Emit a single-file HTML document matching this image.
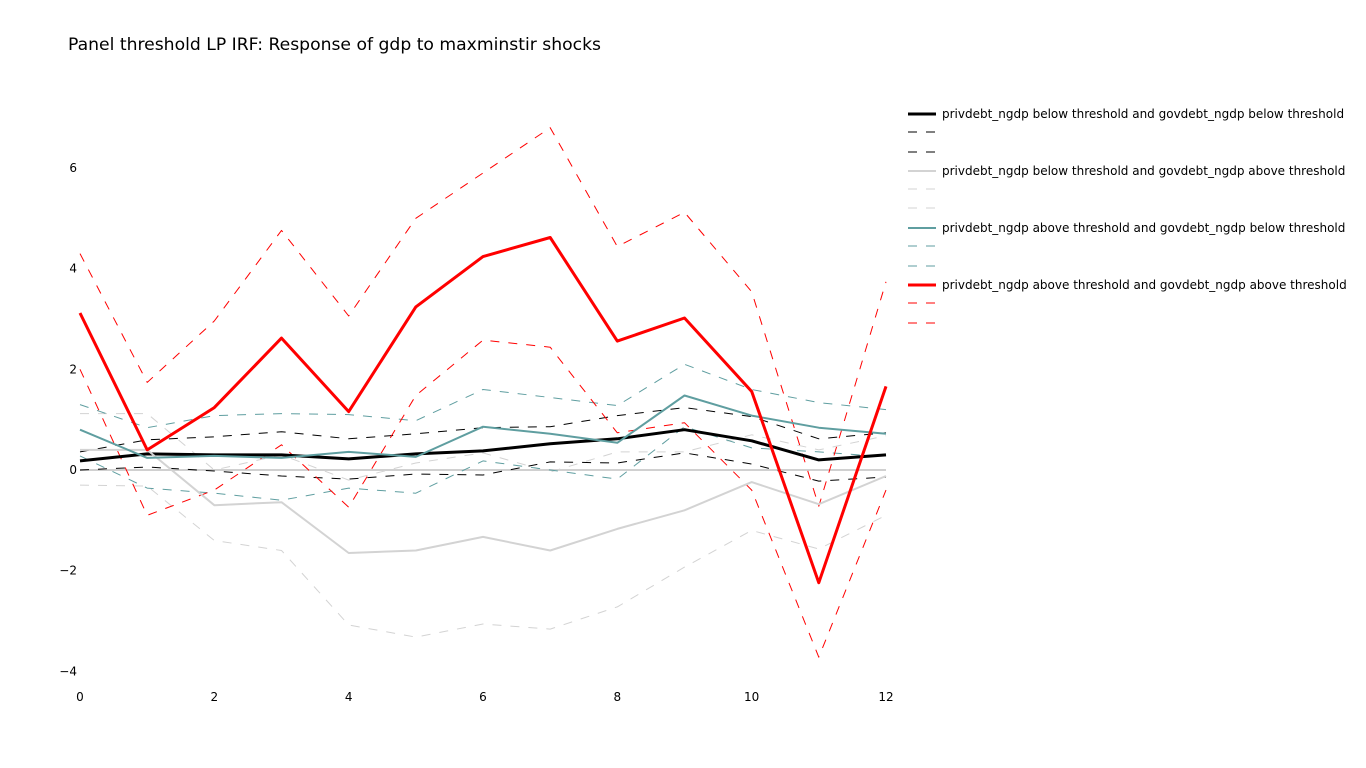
<!DOCTYPE html>
<html><head><meta charset="utf-8"><style>
body{margin:0;background:#fff;font-family:"DejaVu Sans",sans-serif}
svg{display:block}
</style></head><body>
<svg id="chart" width="1366" height="768" font-family="DejaVu Sans, sans-serif">
<rect width="1366" height="768" fill="#fff"/>
<text x="68" y="50" font-size="17.2" fill="#000">Panel threshold LP IRF: Response of gdp to maxminstir shocks</text>
<g id="axes"></g><g id="plot"></g><g id="legend"></g>
</svg>
<script>
const horizons=[0,1,2,3,4,5,6,7,8,9,10,11,12];
const xTicks=[0,2,4,6,8,10,12];
const yTicks=[-4,-2,0,2,4,6];
const yTickLabels=["\u22124","\u22122","0","2","4","6"];
const seriesNames=["privdebt_ngdp below threshold and govdebt_ngdp below threshold","privdebt_ngdp below threshold and govdebt_ngdp above threshold","privdebt_ngdp above threshold and govdebt_ngdp below threshold","privdebt_ngdp above threshold and govdebt_ngdp above threshold"];
const bbIrf=[0.18,0.32,0.3,0.3,0.22,0.32,0.38,0.52,0.62,0.8,0.58,0.2,0.3];
const bbUp=[0.36,0.6,0.66,0.76,0.62,0.72,0.84,0.86,1.08,1.24,1.06,0.62,0.74];
const bbLo=[0,0.06,-0.02,-0.12,-0.18,-0.08,-0.1,0.16,0.14,0.34,0.12,-0.22,-0.14];
const baIrf=[0.4,0.4,-0.7,-0.64,-1.65,-1.6,-1.33,-1.6,-1.17,-0.8,-0.24,-0.68,-0.12];
const baUp=[1.12,1.12,0.0,0.3,-0.2,0.14,0.34,-0.04,0.36,0.36,0.7,0.4,0.68];
const baLo=[-0.3,-0.32,-1.4,-1.6,-3.08,-3.32,-3.06,-3.16,-2.72,-1.93,-1.2,-1.57,-0.9];
const abIrf=[0.8,0.24,0.28,0.24,0.36,0.26,0.86,0.72,0.54,1.48,1.08,0.84,0.72];
const abUp=[1.3,0.84,1.08,1.12,1.1,0.98,1.6,1.44,1.28,2.1,1.6,1.34,1.2];
const abLo=[0.28,-0.36,-0.46,-0.6,-0.36,-0.46,0.18,0,-0.18,0.86,0.44,0.36,0.26];
const aaIrf=[3.12,0.4,1.24,2.62,1.16,3.24,4.24,4.62,2.56,3.02,1.56,-2.24,1.66];
const aaUp=[4.3,1.74,2.96,4.76,3.06,5.0,5.9,6.8,4.44,5.12,3.54,-0.72,3.74];
const aaLo=[2.0,-0.9,-0.4,0.5,-0.74,1.48,2.58,2.44,0.74,0.94,-0.4,-3.72,-0.4];

const NS="http://www.w3.org/2000/svg";
const xS=v=>80+v*(886-80)/12;
const yS=v=>470-v*(470-168)/6;
function mk(t,a,p){const e=document.createElementNS(NS,t);for(const k in a)e.setAttribute(k,a[k]);p.appendChild(e);return e;}
const axes=document.getElementById('axes'),plot=document.getElementById('plot'),leg=document.getElementById('legend');
const zl=mk('line',{x1:80,x2:886,y1:yS(0),y2:yS(0),stroke:'#d0d0d0','stroke-width':2},axes);


xTicks.forEach(t=>{const e=mk('text',{x:xS(t),y:701,'font-size':12,'text-anchor':'middle',fill:'#000'},axes);e.textContent=t;

});
yTicks.forEach((t,i)=>{const e=mk('text',{x:77,y:yS(t)+4,'font-size':12,'text-anchor':'end',fill:'#000'},axes);e.textContent=yTickLabels[i];

});
const groups=[
 {k:'bb',c:'#000000',w:3,irf:bbIrf,up:bbUp,lo:bbLo},
 {k:'ba',c:'#d3d3d3',w:2,irf:baIrf,up:baUp,lo:baLo},
 {k:'ab',c:'#5f9ea0',w:2,irf:abIrf,up:abUp,lo:abLo},
 {k:'aa',c:'#ff0000',w:3,irf:aaIrf,up:aaUp,lo:aaLo}];
function line(vals,c,w,dash,name){
 const d=vals.map((v,i)=>(i?'L':'M')+xS(horizons[i]).toFixed(1)+','+yS(v).toFixed(1)).join('');
 const p=mk('path',{d:d,fill:'none',stroke:c,'stroke-width':w,'stroke-linejoin':'round'},plot);
 if(dash)p.setAttribute('stroke-dasharray','9,9');
 
 
}
groups.forEach(g=>{line(g.up,g.c,1,true,g.k+'-upper-band');line(g.lo,g.c,1,true,g.k+'-lower-band');});
groups.forEach(g=>{line(g.irf,g.c,g.w,false,g.k+'-irf-line');});
const rows=[114,132,152,171,189,208,228,246,266,285,303,323];
groups.forEach((g,gi)=>{
 for(let j=0;j<3;j++){
  const y=rows[gi*3+j];
  const l=mk('line',{x1:908,x2:936,y1:y,y2:y,stroke:g.c,'stroke-width':j?1:g.w},leg);
  if(j)l.setAttribute('stroke-dasharray','9,9');
  
  
  if(j===0){const t=mk('text',{x:942,y:y+4,'font-size':12,fill:'#000'},leg);t.textContent=seriesNames[gi];
  
  }
 }
});
</script>
</body></html>
